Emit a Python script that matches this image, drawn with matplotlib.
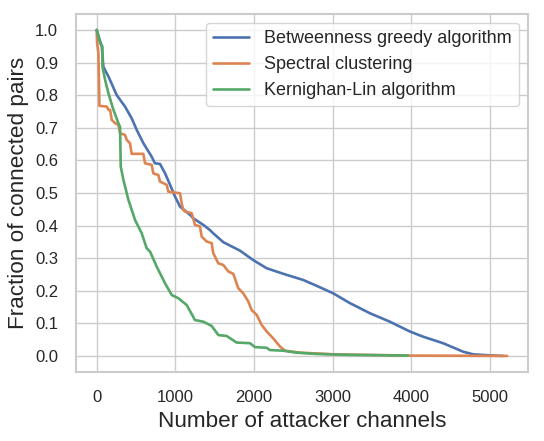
import matplotlib
matplotlib.use("Agg")
import matplotlib.pyplot as plt
import seaborn as sns

# curves (attacker channels, fraction of connected pairs)
betweenness_x = [0, 65, 85, 150, 255, 360, 445, 510, 595, 700, 740, 805, 870, 933, 996,
                 1060, 1187, 1229, 1356, 1441, 1483, 1610, 1822, 1991, 2161, 2372, 2626,
                 2797, 3008, 3220, 3474, 3728, 3982, 4151, 4405, 4659, 4786, 5040, 5165]
betweenness_y = [1.0, 0.949, 0.887, 0.857, 0.80, 0.765, 0.729, 0.693, 0.652, 0.611, 0.591,
                 0.589, 0.560, 0.525, 0.489, 0.458, 0.433, 0.422, 0.402, 0.386, 0.376, 0.349,
                 0.323, 0.294, 0.269, 0.252, 0.233, 0.215, 0.192, 0.162, 0.131, 0.105, 0.075,
                 0.059, 0.039, 0.013, 0.005, 0.001, 0.0]

spectral_x = [0, 5, 22, 35, 128, 150, 170, 192, 234, 276, 297, 360, 382, 424, 445, 593,
              615, 700, 720, 784, 805, 890, 911, 1060, 1081, 1102, 1123, 1208, 1250, 1314,
              1335, 1399, 1462, 1483, 1547, 1610, 1674, 1737, 1800, 1864, 1928, 1970, 2034,
              2098, 2161, 2245, 2330, 2394, 2584, 3008, 3982, 5220]
spectral_y = [1.0, 0.96, 0.93, 0.767, 0.765, 0.755, 0.755, 0.724, 0.714, 0.709, 0.683,
              0.678, 0.663, 0.652, 0.620, 0.620, 0.591, 0.586, 0.560, 0.555, 0.535, 0.525,
              0.504, 0.499, 0.468, 0.448, 0.443, 0.438, 0.402, 0.397, 0.366, 0.351, 0.346,
              0.315, 0.284, 0.279, 0.259, 0.252, 0.208, 0.192, 0.167, 0.141, 0.126, 0.095,
              0.075, 0.054, 0.029, 0.016, 0.010, 0.005, 0.001, 0.0]

kl_x = [0, 43, 73, 73, 107, 149, 213, 276, 297, 306, 340, 403, 488, 573, 636, 679, 763,
        869, 954, 1038, 1145, 1250, 1356, 1462, 1547, 1653, 1780, 1949, 2013, 2161, 2203,
        2372, 2542, 2797, 3220, 3960]
kl_y = [1.0, 0.959, 0.949, 0.887, 0.847, 0.806, 0.755, 0.714, 0.703, 0.581, 0.540, 0.479,
        0.417, 0.376, 0.330, 0.320, 0.274, 0.223, 0.187, 0.177, 0.156, 0.110, 0.105, 0.092,
        0.064, 0.061, 0.041, 0.039, 0.027, 0.025, 0.018, 0.016, 0.010, 0.006, 0.003, 0.001]

sns.set_theme(style="whitegrid")
plt.rcParams['font.family'] = ['Liberation Sans', 'DejaVu Sans']
colors = sns.color_palette()

fig, ax = plt.subplots(figsize=(5.44, 4.41), dpi=100)
fig.subplots_adjust(left=0.14, right=0.970, top=0.969, bottom=0.156)
ax.plot(betweenness_x, betweenness_y, color=colors[0], lw=1.9, label="Betweenness greedy algorithm")
ax.plot(spectral_x, spectral_y, color=colors[1], lw=1.9, label="Spectral clustering")
ax.plot(kl_x, kl_y, color=colors[2], lw=1.9, label="Kernighan-Lin algorithm")

ax.set_yticks([i / 10 for i in range(11)])
ax.set_xticks([0, 1000, 2000, 3000, 4000, 5000])
ax.tick_params(labelsize=12, pad=7)
ax.set_xlabel("Number of attacker channels", fontsize=16.2)
ax.set_ylabel("Fraction of connected pairs", fontsize=16.2)
for s in ax.spines.values():
    s.set_linewidth(1.5)
ax.legend(fontsize=13, loc="upper right")

plt.savefig("out.png", dpi=100)
